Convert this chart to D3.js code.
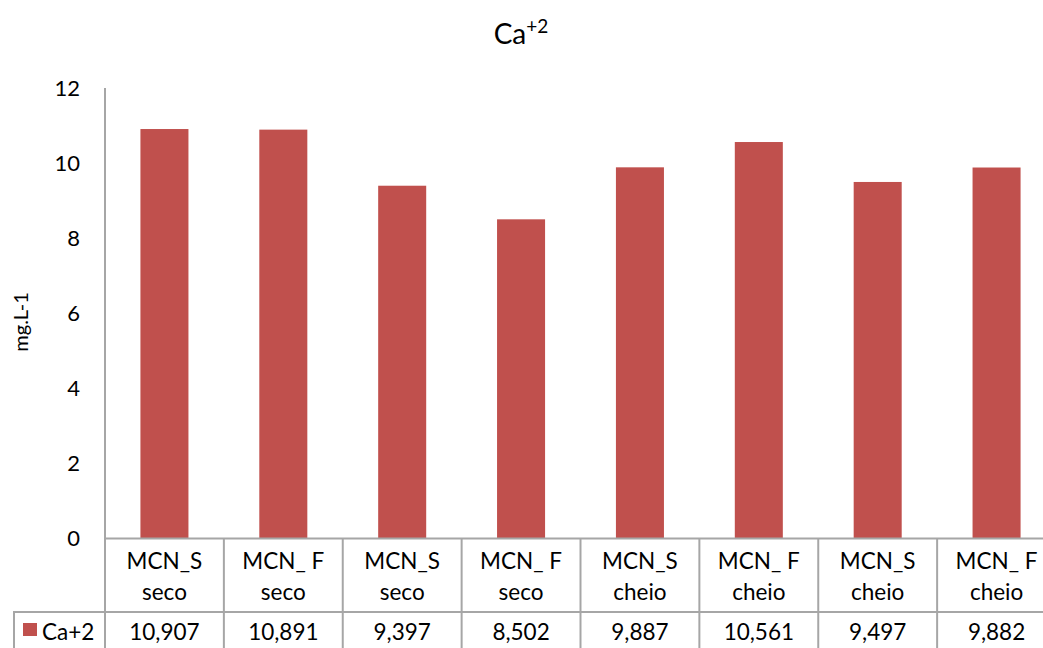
<!DOCTYPE html>
<html>
<head>
<meta charset="utf-8">
<script src="https://cdn.jsdelivr.net/npm/d3@7"></script>
<style>
  html, body { margin: 0; padding: 0; background: #fff; }
  svg text { font-family: Lato, "Open Sans", "Liberation Sans", sans-serif; fill: #000; }
</style>
</head>
<body>
<svg id="chart" width="1043" height="648"></svg>
<script>
// Sampling sites and seasons
const categories = ["MCN_S|seco", "MCN_ F|seco", "MCN_S|seco", "MCN_ F|seco",
                    "MCN_S|cheio", "MCN_ F|cheio", "MCN_S|cheio", "MCN_ F|cheio"];
// Calcium concentration (mg.L-1)
const caValues = [10.907, 10.891, 9.397, 8.502, 9.887, 10.561, 9.497, 9.882];
const valueLabels = ["10,907", "10,891", "9,397", "8,502", "9,887", "10,561", "9,497", "9,882"];
const yTicks = [0, 2, 4, 6, 8, 10, 12];
const seriesName = "Ca+2";

const svg = d3.select("#chart");
const barColor = "#c0504d";
const lineColor = "#a6a6a6";

const plotLeft = 105, plotRight = 1056, plotTop = 88, plotBase = 538.5;
const rowDivider = 612, tableBottom = 648, legendLeft = 14;

const x = d3.scaleBand()
  .domain(d3.range(categories.length))
  .range([plotLeft, plotRight])
  .paddingInner(0.596)
  .paddingOuter(0.298);
const step = x.step();

const y = d3.scaleLinear().domain([0, 12]).range([plotBase, plotTop]);

// Title with superscript charge
const title = svg.append("text")
  .attr("x", 521).attr("y", 44)
  .attr("text-anchor", "middle")
  .style("font-size", "28px");
title.append("tspan").text("Ca");
title.append("tspan").attr("dy", -11).style("font-size", "19px").text("+2");

// Y axis labels
const yAxis = d3.axisLeft(y).tickValues(yTicks).tickSize(0).tickPadding(0).tickFormat(d3.format("d"));
const yG = svg.append("g").attr("transform", "translate(80,0)").call(yAxis);
yG.select(".domain").remove();
yG.selectAll("text").style("font-size", "22px").style("font-family", "Lato, sans-serif").attr("fill", "#000");

// Y axis title
svg.append("text")
  .attr("transform", "translate(28,322) rotate(-90)")
  .attr("text-anchor", "middle")
  .style("font-size", "20px")
  .text("mg.L-1");

// Bars
svg.append("g").selectAll("rect")
  .data(caValues)
  .join("rect")
  .attr("x", (d, i) => x(i))
  .attr("y", d => y(d))
  .attr("width", x.bandwidth())
  .attr("height", d => y(0) - y(d))
  .attr("fill", barColor);

// Data table grid
const grid = svg.append("g").attr("stroke", lineColor).attr("stroke-width", 2).attr("fill", "none");
grid.append("line").attr("x1", plotLeft).attr("x2", plotRight).attr("y1", plotBase).attr("y2", plotBase);
grid.append("line").attr("x1", legendLeft - 1).attr("x2", plotRight).attr("y1", rowDivider).attr("y2", rowDivider);
grid.append("line").attr("x1", plotLeft).attr("x2", plotLeft).attr("y1", plotTop).attr("y2", tableBottom);
grid.append("line").attr("x1", legendLeft).attr("x2", legendLeft).attr("y1", rowDivider).attr("y2", tableBottom);
grid.selectAll("line.sep")
  .data(d3.range(1, categories.length + 1))
  .join("line")
  .attr("class", "sep")
  .attr("x1", i => plotLeft + i * step).attr("x2", i => plotLeft + i * step)
  .attr("y1", plotBase).attr("y2", tableBottom);

// Category labels (two lines)
const cat = svg.append("g").selectAll("text")
  .data(categories)
  .join("text")
  .attr("text-anchor", "middle")
  .style("font-size", "22.5px");
cat.append("tspan")
  .attr("x", (d, i) => x(i) + x.bandwidth() / 2)
  .attr("y", 569)
  .text(d => d.split("|")[0]);
cat.append("tspan")
  .attr("x", (d, i) => x(i) + x.bandwidth() / 2)
  .attr("y", 600)
  .text(d => d.split("|")[1]);

// Value row
svg.append("g").selectAll("text")
  .data(valueLabels)
  .join("text")
  .attr("x", (d, i) => x(i) + x.bandwidth() / 2)
  .attr("y", 640)
  .attr("text-anchor", "middle")
  .style("font-size", "22.5px")
  .text(d => d);

// Legend key
svg.append("rect")
  .attr("x", 23).attr("y", 623).attr("width", 14).attr("height", 13)
  .attr("fill", barColor);
svg.append("text")
  .attr("x", 42).attr("y", 640)
  .style("font-size", "22.5px")
  .text(seriesName);
</script>
</body>
</html>
